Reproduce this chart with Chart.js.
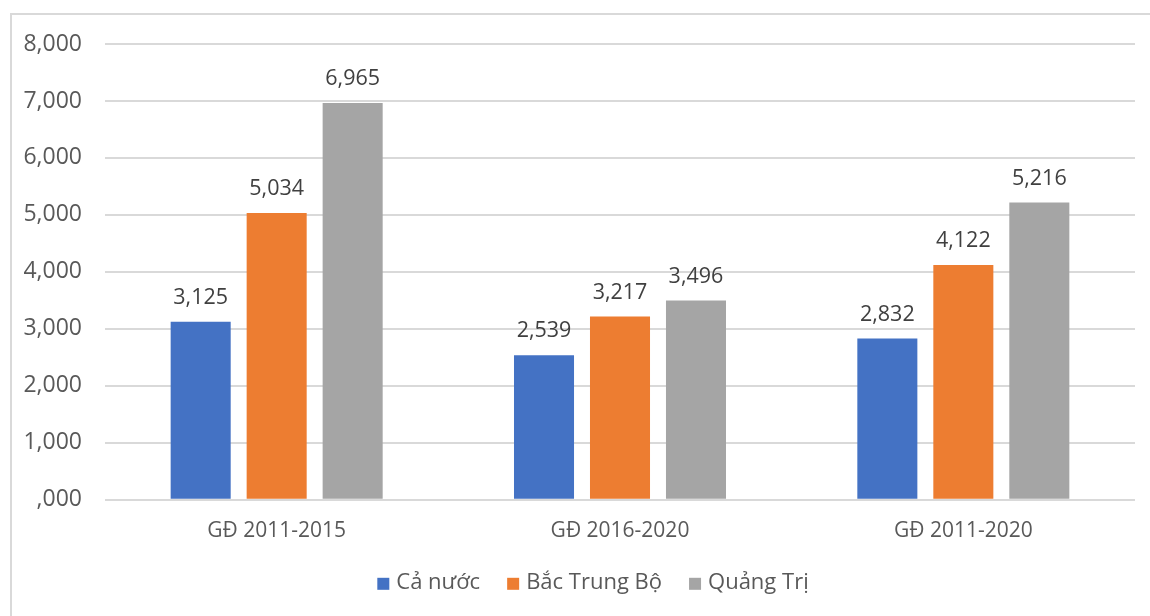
<!DOCTYPE html>
<html>
<head>
<meta charset="utf-8">
<script src="https://cdn.jsdelivr.net/npm/chart.js@4/dist/chart.umd.min.js"></script>
<style>
  html, body { margin: 0; padding: 0; background: #fff; }
  #wrap { position: relative; width: 1150px; height: 616px; overflow: hidden; }
  #frame { position: absolute; left: 10px; top: 13px; width: 1200px; height: 700px;
           border: 2px solid #d9d9d9; box-sizing: border-box; }
  canvas { position: absolute; left: 0; top: 0; }
</style>
</head>
<body>
<div id="wrap">
  <div id="frame"></div>
  <canvas id="c" width="1150" height="616"></canvas>
</div>
<script>
// Periods and regions
const categories = ['GĐ 2011-2015', 'GĐ 2016-2020', 'GĐ 2011-2020'];
const seriesNames = ['Cả nước', 'Bắc Trung Bộ', 'Quảng Trị'];
const caNuoc = [3125, 2539, 2832];
const bacTrungBo = [5034, 3217, 4122];
const quangTri = [6965, 3496, 5216];
const tickValues = [0, 1000, 2000, 3000, 4000, 5000, 6000, 7000, 8000];
const tickLabels = [',000', '1,000', '2,000', '3,000', '4,000', '5,000', '6,000', '7,000', '8,000'];
const colors = ['#4472C4', '#ED7D31', '#A5A5A5'];

const fontFamily = '"Open Sans", "Noto Sans", sans-serif';
const textColor = '#595959';

function fmt(v) { return v.toLocaleString('en-US'); }

// Writes each bar's value just above it
const valueLabels = {
  id: 'valueLabels',
  afterDatasetsDraw(chart) {
    const ctx = chart.ctx;
    ctx.save();
    ctx.font = '21.5px ' + fontFamily;
    ctx.fillStyle = '#404040';
    ctx.textAlign = 'center';
    ctx.textBaseline = 'middle';
    chart.data.datasets.forEach((ds, i) => {
      chart.getDatasetMeta(i).data.forEach((bar, j) => {
        ctx.fillText(fmt(ds.data[j]), bar.x, bar.y - 24);
      });
    });
    ctx.restore();
  }
};

// Legend row under the axis: small squares with tight spacing
const legendRow = {
  id: 'legendRow',
  afterDraw(chart) {
    const ctx = chart.ctx;
    const box = 12, gapText = 7, gapItem = 27;
    ctx.save();
    ctx.font = '22px ' + fontFamily;
    ctx.textBaseline = 'middle';
    const items = chart.data.datasets.map(ds => ({
      label: ds.label, color: ds.backgroundColor, w: ctx.measureText(ds.label).width
    }));
    const total = items.reduce((s, it) => s + box + gapText + it.w, 0) + gapItem * (items.length - 1);
    const cx = 593;
    const cy = chart.chartArea.bottom + 83;
    let x = cx - total / 2;
    items.forEach(it => {
      ctx.fillStyle = it.color;
      ctx.fillRect(x, cy - box / 2 + 1, box, box);
      x += box + gapText;
      ctx.fillStyle = textColor;
      ctx.fillText(it.label, x, cy);
      x += it.w + gapItem;
    });
    ctx.restore();
  }
};

new Chart(document.getElementById('c'), {
  type: 'bar',
  data: {
    labels: categories,
    datasets: [caNuoc, bacTrungBo, quangTri].map((d, i) => ({
      label: seriesNames[i],
      data: d,
      backgroundColor: colors[i],
      borderWidth: 0,
      categoryPercentage: 0.664,
      barPercentage: 0.79
    }))
  },
  options: {
    responsive: false,
    animation: false,
    layout: { padding: { left: 20, right: 15, top: 44, bottom: 61 } },
    scales: {
      x: {
        grid: { display: false },
        border: { display: false },
        ticks: { color: textColor, font: { family: fontFamily, size: 21 }, padding: 11 }
      },
      y: {
        min: 0, max: 8000,
        afterBuildTicks(axis) { axis.ticks = tickValues.map(v => ({ value: v })); },
        afterFit(axis) { axis.width = 85; },
        grid: { color: '#d9d9d9', lineWidth: 2, drawTicks: false },
        border: { display: false },
        ticks: {
          color: textColor,
          font: { family: fontFamily, size: 23 },
          padding: 23,
          callback: (v) => tickLabels[tickValues.indexOf(v)]
        }
      }
    },
    plugins: {
      legend: { display: false },
      tooltip: { enabled: false }
    }
  },
  plugins: [valueLabels, legendRow]
});
</script>
</body>
</html>
